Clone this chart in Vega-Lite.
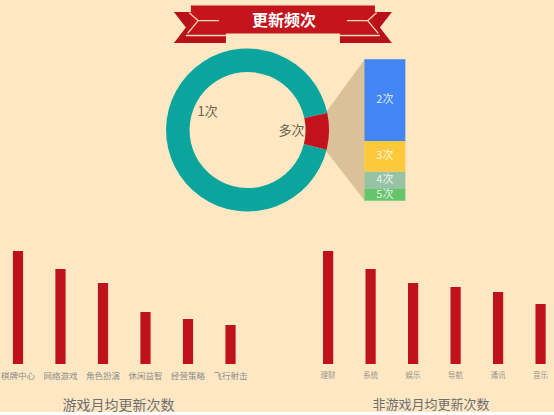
{
  "$schema": "https://vega.github.io/schema/vega-lite/v6.json",
  "background": "#FDE8C3",
  "padding": 0,
  "bounds": "flush",
  "spacing": 9,
  "config": {"view": {"stroke": null}, "font": "Noto Sans CJK SC"},
  "vconcat": [
    {
      "width": 554,
      "height": 235,
      "layer": [
        {
          "layer": [
            {
              "data": {"values": [{}]},
              "mark": {"type": "point", "shape": "M-23,-12L20,-70.7L20,70.7L-23,15.6Z", "size": 4, "filled": true, "color": "#DBC197", "opacity": 1},
              "encoding": {
                "x": {"datum": 345, "type": "quantitative", "scale": {"domain": [0, 554]}, "axis": null},
                "y": {"datum": 130, "type": "quantitative", "scale": {"domain": [0, 235], "range": [0, 235]}, "axis": null}
              }
            },
            {
              "data": {"values": [{}]},
              "mark": {"type": "point", "shape": "M-109,-12L-57,-12L-57,19L-109,19L-97,3.5ZM109,-12L57,-12L57,19L109,19L97,3.5Z", "size": 4, "filled": true, "color": "#B8111A", "opacity": 1},
              "encoding": {
                "x": {"datum": 282, "type": "quantitative", "scale": {"domain": [0, 554]}, "axis": null},
                "y": {"datum": 24, "type": "quantitative", "scale": {"domain": [0, 235], "range": [0, 235]}, "axis": null}
              }
            },
            {
              "data": {"values": [{}]},
              "mark": {"type": "point", "shape": "M-92,-18.5L92,-18.5L92,9.5L-92,9.5Z", "size": 4, "filled": true, "color": "#C4141C", "opacity": 1},
              "encoding": {
                "x": {"datum": 282, "type": "quantitative", "scale": {"domain": [0, 554]}, "axis": null},
                "y": {"datum": 24, "type": "quantitative", "scale": {"domain": [0, 235], "range": [0, 235]}, "axis": null}
              }
            },
            {
              "data": {"values": [{}]},
              "mark": {"type": "point", "shape": "M-93.7,-11.3L-84.7,-3.3L-64,-3.3M-84.7,-3.3L-95.3,9.3M-97,11.5L-57,11.5M93.7,-11.3L84.7,-3.3L64,-3.3M84.7,-3.3L95.3,9.3M97,11.5L57,11.5", "size": 4, "filled": false, "stroke": "#F8DDB0", "strokeWidth": 1.3, "opacity": 1},
              "encoding": {
                "x": {"datum": 282, "type": "quantitative", "scale": {"domain": [0, 554]}, "axis": null},
                "y": {"datum": 24, "type": "quantitative", "scale": {"domain": [0, 235], "range": [0, 235]}, "axis": null}
              }
            },
            {
              "data": {"values": [{"heading": "更新频次"}]},
              "mark": {"type": "text", "fontSize": 16, "fontWeight": "bold", "color": "#FFFFFF"},
              "encoding": {
                "x": {"datum": 283, "type": "quantitative", "scale": {"domain": [0, 554]}, "axis": null},
                "y": {"datum": 20.5, "type": "quantitative", "scale": {"domain": [0, 235], "range": [0, 235]}, "axis": null},
                "text": {"field": "heading"}
              }
            },
            {
              "data": {"values": [{"label": "1次", "share": 92.8}, {"label": "多次", "share": 7.2}]},
              "mark": {"type": "arc", "radius": 81.5, "radius2": 58},
              "encoding": {
                "theta": {"field": "share", "type": "quantitative", "stack": true, "scale": {"domain": [0, 100], "range": [1.3622, 7.6454]}},
                "color": {"field": "label", "type": "nominal", "scale": {"domain": ["1次", "多次"], "range": ["#0BA59E", "#C2121C"]}, "legend": null},
                "order": {"field": "label", "sort": "descending"},
                "x": {"datum": 246, "type": "quantitative", "scale": {"domain": [0, 554]}, "axis": null},
                "y": {"datum": 130, "type": "quantitative", "scale": {"domain": [0, 235], "range": [0, 235]}, "axis": null}
              }
            },
            {
              "data": {"values": [{"label": "1次", "share": 92.8}, {"label": "多次", "share": 7.2}]},
              "transform": [{"filter": "datum.label === '多次'"}],
              "mark": {"type": "text", "radius": 44, "fontSize": 13, "color": "#6E5E4E"},
              "encoding": {
                "theta": {"field": "share", "type": "quantitative", "stack": true},
                "text": {"field": "label"},
                "x": {"datum": 246, "type": "quantitative", "scale": {"domain": [0, 554]}, "axis": null},
                "y": {"datum": 130, "type": "quantitative", "scale": {"domain": [0, 235], "range": [0, 235]}, "axis": null}
              }
            },
            {
              "data": {"values": [{"label": "1次", "share": 92.8}, {"label": "多次", "share": 7.2}]},
              "transform": [{"filter": "datum.label === '1次'"}],
              "mark": {"type": "text", "radius": 44, "dy": -37, "fontSize": 13, "color": "#6E5E4E"},
              "encoding": {
                "theta": {"field": "share", "type": "quantitative", "stack": true},
                "text": {"field": "label"},
                "x": {"datum": 246, "type": "quantitative", "scale": {"domain": [0, 554]}, "axis": null},
                "y": {"datum": 130, "type": "quantitative", "scale": {"domain": [0, 235], "range": [0, 235]}, "axis": null}
              }
            }
          ]
        },
        {
          "data": {"values": [
            {"label": "2次", "share": 57.8},
            {"label": "3次", "share": 21.7},
            {"label": "4次", "share": 12.2},
            {"label": "5次", "share": 8.3}
          ]},
          "layer": [
            {
              "mark": {"type": "bar", "orient": "vertical"},
              "encoding": {
                "x": {"datum": 365, "type": "quantitative", "scale": {"domain": [0, 554]}, "axis": null},
                "x2": {"datum": 406.7},
                "y": {"field": "share", "type": "quantitative", "stack": "zero", "scale": {"domain": [0, 100], "range": [200.7, 59.3]}, "axis": null},
                "color": {"field": "label", "type": "nominal", "scale": {"domain": ["2次", "3次", "4次", "5次"], "range": ["#4286F5", "#FDC93A", "#97C3A5", "#66C46B"]}, "legend": null},
                "order": {"field": "label", "sort": "descending"}
              }
            },
            {
              "mark": {"type": "text", "color": "#FFFFFF", "opacity": 0.85, "fontSize": 11},
              "encoding": {
                "x": {"datum": 385.85, "type": "quantitative", "scale": {"domain": [0, 554]}, "axis": null},
                "y": {"field": "share", "type": "quantitative", "stack": "zero", "bandPosition": 0.5, "scale": {"domain": [0, 100], "range": [200.7, 59.3]}, "axis": null},
                "text": {"field": "label"},
                "detail": {"field": "label"},
                "order": {"field": "label", "sort": "descending"}
              }
            }
          ]
        }
      ],
      "resolve": {"scale": {"y": "independent", "color": "independent"}}
    },
    {
      "bounds": "flush",
      "spacing": 51,
      "hconcat": [
        {
          "width": 254,
          "height": 120,
          "data": {"values": [
            {"category": "棋牌中心", "updates": 11.3},
            {"category": "网络游戏", "updates": 9.5},
            {"category": "角色扮演", "updates": 8.1},
            {"category": "休闲益智", "updates": 5.2},
            {"category": "经营策略", "updates": 4.5},
            {"category": "飞行射击", "updates": 3.9}
          ]},
          "mark": {"type": "bar", "color": "#C0121A"},
          "encoding": {
            "x": {
              "field": "category", "type": "nominal", "sort": null,
              "scale": {"paddingInner": 0.76, "paddingOuter": 0.368, "align": 0.38},
              "axis": {"title": "游戏月均更新次数", "domain": false, "ticks": false, "labelAngle": 0, "labelFontSize": 8.5, "labelColor": "#8C8C8C", "labelPadding": 7, "titleFontSize": 14, "titleColor": "#6E6E6E", "titleFontWeight": "normal", "titleX": 117, "titleY": 34}
            },
            "y": {"field": "updates", "type": "quantitative", "scale": {"domain": [0, 12]}, "axis": null}
          }
        },
        {
          "width": 249,
          "height": 120,
          "data": {"values": [
            {"category": "理财", "updates": 11.3},
            {"category": "系统", "updates": 9.5},
            {"category": "娱乐", "updates": 8.1},
            {"category": "导航", "updates": 7.7},
            {"category": "通讯", "updates": 7.2},
            {"category": "音乐", "updates": 6.0}
          ]},
          "mark": {"type": "bar", "color": "#C0121A"},
          "encoding": {
            "x": {
              "field": "category", "type": "nominal", "sort": null,
              "scale": {"paddingInner": 0.76, "paddingOuter": 0.31, "align": 0.646},
              "axis": {"title": "非游戏月均更新次数", "domain": false, "ticks": false, "labelAngle": 0, "labelFontSize": 7.5, "labelColor": "#9A948A", "labelPadding": 7.5, "titleFontSize": 13, "titleColor": "#6E6E6E", "titleFontWeight": "normal", "titleY": 34}
            },
            "y": {"field": "updates", "type": "quantitative", "scale": {"domain": [0, 12]}, "axis": null}
          }
        }
      ]
    }
  ]
}
